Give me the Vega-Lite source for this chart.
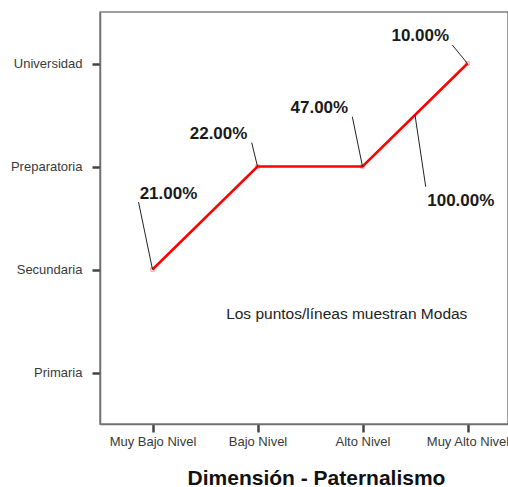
{
  "$schema": "https://vega.github.io/schema/vega-lite/v6.json",
  "width": 408,
  "height": 412,
  "autosize": {"type": "none"},
  "padding": {"left": 100, "top": 12, "right": 0, "bottom": 63},
  "background": "white",
  "config": {
    "view": {"stroke": "#808080", "strokeWidth": 1.5},
    "font": "Liberation Sans",
    "axis": {
      "grid": false,
      "domainColor": "#707070",
      "domainWidth": 1.5,
      "tickColor": "#444444",
      "tickWidth": 2.5,
      "tickSize": 8,
      "labelFont": "Liberation Sans",
      "labelFontSize": 13,
      "labelColor": "#3a3a3a"
    }
  },
  "datasets": {
    "modas": [
      {"nivel": "Muy Bajo Nivel", "x": 0, "escolaridad": "Secundaria", "y": 1},
      {"nivel": "Bajo Nivel", "x": 1, "escolaridad": "Preparatoria", "y": 2},
      {"nivel": "Alto Nivel", "x": 2, "escolaridad": "Preparatoria", "y": 2},
      {"nivel": "Muy Alto Nivel", "x": 3, "escolaridad": "Universidad", "y": 3}
    ],
    "etiquetas": [
      {"texto": "21.00%", "px": 0, "py": 1, "lx": -0.133, "ly": 1.655, "tx": 0.152, "ty": 1.682},
      {"texto": "22.00%", "px": 1, "py": 2, "lx": 0.945, "ly": 2.231, "tx": 0.629, "ty": 2.264},
      {"texto": "47.00%", "px": 2, "py": 2, "lx": 1.903, "ly": 2.483, "tx": 1.589, "ty": 2.522},
      {"texto": "10.00%", "px": 3, "py": 3, "lx": 2.855, "ly": 3.18, "tx": 2.55, "ty": 3.218},
      {"texto": "100.00%", "px": 2.5, "py": 2.5, "lx": 2.602, "ly": 1.804, "tx": 2.936, "ty": 1.619}
    ],
    "nota": [
      {"texto": "Los puntos/líneas muestran Modas", "x": 1.85, "y": 0.517}
    ]
  },
  "layer": [
    {
      "data": {"name": "modas"},
      "mark": {"type": "line", "color": "#ff0000", "strokeWidth": 2.5},
      "encoding": {
        "x": {
          "field": "x", "type": "quantitative",
          "scale": {"domain": [-0.5, 3.3857], "nice": false, "zero": false},
          "title": "Dimensión - Paternalismo",
          "axis": {
            "values": [0, 1, 2, 3],
            "labelExpr": "['Muy Bajo Nivel','Bajo Nivel','Alto Nivel','Muy Alto Nivel'][datum.value]",
            "labelPadding": 3,
            "titleFontSize": 21,
            "titleFontWeight": "bold",
            "titleColor": "#111111",
            "titleX": 216,
            "titleY": 60,
            "titleBaseline": "alphabetic",
            "titleAlign": "center",
            "titleAnchor": null
          }
        },
        "y": {
          "field": "y", "type": "quantitative",
          "scale": {"domain": [-0.5, 3.5], "nice": false, "zero": false},
          "title": null,
          "axis": {
            "values": [0, 1, 2, 3],
            "labelExpr": "['Primaria','Secundaria','Preparatoria','Universidad'][datum.value]",
            "labelPadding": 10
          }
        }
      }
    },
    {
      "data": {"name": "modas"},
      "mark": {"type": "point", "shape": "square", "size": 12, "filled": false, "color": "#ff0000", "strokeWidth": 0.8, "opacity": 0.5},
      "encoding": {
        "x": {"field": "x", "type": "quantitative", "title": "Dimensión - Paternalismo"},
        "y": {"field": "y", "type": "quantitative", "title": null}
      }
    },
    {
      "data": {"name": "etiquetas"},
      "mark": {"type": "rule", "color": "#222222", "strokeWidth": 1},
      "encoding": {
        "x": {"field": "lx", "type": "quantitative", "title": "Dimensión - Paternalismo"},
        "y": {"field": "ly", "type": "quantitative", "title": null},
        "x2": {"field": "px"},
        "y2": {"field": "py"}
      }
    },
    {
      "data": {"name": "etiquetas"},
      "mark": {"type": "text", "font": "Liberation Sans", "fontSize": 17, "fontWeight": "bold", "color": "#1a1a1a", "align": "center", "baseline": "alphabetic"},
      "encoding": {
        "x": {"field": "tx", "type": "quantitative", "title": "Dimensión - Paternalismo"},
        "y": {"field": "ty", "type": "quantitative", "title": null},
        "text": {"field": "texto"}
      }
    },
    {
      "data": {"name": "nota"},
      "mark": {"type": "text", "font": "Liberation Sans", "fontSize": 15.5, "color": "#222222", "align": "center", "baseline": "alphabetic"},
      "encoding": {
        "x": {"field": "x", "type": "quantitative", "title": "Dimensión - Paternalismo"},
        "y": {"field": "y", "type": "quantitative", "title": null},
        "text": {"field": "texto"}
      }
    }
  ]
}
